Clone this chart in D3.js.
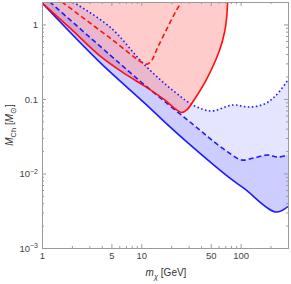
<!DOCTYPE html>
<html>
<head>
<meta charset="utf-8">
<script src="https://cdn.jsdelivr.net/npm/d3@7"></script>
<style>
  body { margin: 0; background: #fff; }
  svg { display: block; font-family: "Liberation Sans", Arial, sans-serif; }
</style>
</head>
<body>
<div id="chart"></div>
<script>
// curves as [m_chi (GeV), M_Ch (M_sun)] pairs
const blueSolid = [[1, 1.95], [3.83, 0.31], [10.8, 0.088], [16.4, 0.052], [28.7, 0.0265],
  [77.5, 0.0087], [110, 0.0062], [225, 0.00304], [300, 0.0036]];
const blueDashed = [[1.2, 2.0], [4.83, 0.39], [10.8, 0.154], [38.7, 0.0384], [51.1, 0.0282],
  [74, 0.0195], [102, 0.0152], [138, 0.0162], [187, 0.0177], [235, 0.0166], [300, 0.0177]];
const blueDotted = [[2.05, 2.0], [4.83, 0.925], [10.8, 0.286], [21.7, 0.124], [34.5, 0.0805],
  [51.1, 0.069], [83.2, 0.083], [123, 0.078], [174, 0.0857], [225, 0.11], [300, 0.18]];
const redSolid = [[1, 1.95], [1.91, 0.897], [3.83, 0.378], [6.83, 0.217], [10.8, 0.149],
  [17.2, 0.097], [22.7, 0.0712], [25.5, 0.0659], [28.7, 0.0712], [34.5, 0.1], [46.6, 0.197],
  [61.5, 0.455], [69, 0.792], [72.3, 1.22], [74, 2.0]];
const redDashed = [[1.59, 2.0], [4.83, 0.659], [10.4, 0.304], [11.6, 0.295], [12.8, 0.334],
  [14.7, 0.499], [18.5, 0.925], [22.7, 1.57], [25.5, 2.0]];

const xMajor = [1, 5, 10, 50, 100];
const xMinor = [2, 3, 4, 6, 7, 8, 9, 20, 30, 40, 60, 70, 80, 90, 200, 300];
const yMajor = [1e-3, 1e-2, 0.1, 1];
const yMinor = [2e-3, 3e-3, 4e-3, 5e-3, 6e-3, 7e-3, 8e-3, 9e-3, 0.02, 0.03, 0.04, 0.05, 0.06,
  0.07, 0.08, 0.09, 0.2, 0.3, 0.4, 0.5, 0.6, 0.7, 0.8, 0.9, 2];
const yLabels = { 1: ["1"], 0.1: ["0.1"], 0.01: ["10", "\u22122"], 0.001: ["10", "\u22123"] };

const W = 291, H = 284;
const margin = { top: 2, right: 3, bottom: 36, left: 42 };

const x = d3.scaleLog().domain([1, 300]).range([margin.left, W - margin.right]);
const y = d3.scaleLog().domain([1e-3, 2]).range([H - margin.bottom, margin.top]);

const svg = d3.select("#chart").append("svg").attr("width", W).attr("height", H);

svg.append("clipPath").attr("id", "plotclip")
  .append("rect")
  .attr("x", margin.left).attr("y", margin.top)
  .attr("width", W - margin.left - margin.right)
  .attr("height", H - margin.top - margin.bottom);

const plot = svg.append("g").attr("clip-path", "url(#plotclip)");

const line = d3.line().x(d => x(d[0])).y(d => y(d[1])).curve(d3.curveCatmullRom.alpha(0.5));
const topLeft = [1, 2.2];

// blue bands: solid..dotted and solid..dashed (overlap gives the darker band)
function band(lower, upper) {
  const pts = lower.concat(upper.slice().reverse()).concat([topLeft]);
  return line(lower) + "L" + line(upper.slice().reverse()).slice(1) + "L" + x(topLeft[0]) + "," + y(topLeft[1]) + "Z";
}
plot.append("path").attr("d", band(blueSolid, blueDotted)).attr("fill", "rgba(0,0,255,0.1)");
plot.append("path").attr("d", band(blueSolid, blueDashed)).attr("fill", "rgba(0,0,255,0.1)");

// red region: inside red solid curve up to the top
plot.append("path")
  .attr("d", line(redSolid) + "L" + x(74) + "," + y(2.2) + "L" + x(1) + "," + y(2.2) + "Z")
  .attr("fill", "rgba(255,0,0,0.2)");

const curves = [
  { data: blueSolid, color: "#1c1cff", dash: null },
  { data: blueDashed, color: "#1c1cff", dash: "5,3" },
  { data: blueDotted, color: "#1c1cff", dash: "1.6,2.4" },
  { data: redSolid, color: "#ff1010", dash: null },
  { data: redDashed, color: "#ff1010", dash: "5,3" }
];
curves.forEach(c => {
  plot.append("path")
    .attr("d", line(c.data))
    .attr("fill", "none")
    .attr("stroke", c.color)
    .attr("stroke-width", 1.6)
    .attr("stroke-dasharray", c.dash);
});

// frame + ticks
const frameColor = "#9a9a9a";
function drawAxis(axisFn, scale, vals, size, transform, labels) {
  const g = svg.append("g")
    .attr("transform", transform)
    .call(axisFn(scale).tickValues(vals).tickSize(size).tickPadding(4)
      .tickFormat(labels ? labels : () => ""));
  g.select(".domain").attr("stroke", frameColor).attr("stroke-width", 1);
  g.selectAll(".tick line").attr("stroke", frameColor);
  g.selectAll(".tick text").attr("fill", "#444").style("font-size", "9.5px");
  return g;
}
const bottomY = H - margin.bottom, rightX = W - margin.right;
drawAxis(d3.axisBottom, x, xMinor, -2, `translate(0,${bottomY})`);
drawAxis(d3.axisBottom, x, xMajor, -4, `translate(0,${bottomY})`, d => String(d));
drawAxis(d3.axisTop, x, xMinor, -2, `translate(0,${margin.top})`);
drawAxis(d3.axisTop, x, xMajor, -4, `translate(0,${margin.top})`);
drawAxis(d3.axisLeft, y, yMinor, -2, `translate(${margin.left},0)`);
const yAx = drawAxis(d3.axisLeft, y, yMajor, -4, `translate(${margin.left},0)`, d => "x");
drawAxis(d3.axisRight, y, yMinor, -2, `translate(${rightX},0)`);
drawAxis(d3.axisRight, y, yMajor, -4, `translate(${rightX},0)`);

yAx.selectAll(".tick text").each(function(d) {
  const t = d3.select(this).text("");
  const parts = yLabels[d];
  t.append("tspan").text(parts[0]);
  if (parts[1]) {
    t.append("tspan").attr("dy", "-0.45em").style("font-size", "7px").text(parts[1]);
  }
});

// axis titles
const xt = svg.append("text")
  .attr("x", (margin.left + rightX) / 2 + 1)
  .attr("y", 276)
  .attr("text-anchor", "middle")
  .attr("fill", "#333")
  .style("font-size", "10px");
xt.append("tspan").style("font-style", "italic").text("m");
xt.append("tspan").attr("dy", 2.5).style("font-size", "7.5px").style("font-style", "italic").text("\u03c7");
xt.append("tspan").attr("dy", -2.5).text(" [GeV]");

const yt = svg.append("text")
  .attr("transform", `translate(13,${(margin.top + bottomY) / 2}) rotate(-90)`)
  .attr("text-anchor", "middle")
  .attr("fill", "#333")
  .style("font-size", "10px");
yt.append("tspan").style("font-style", "italic").text("M");
yt.append("tspan").attr("dy", 2.5).style("font-size", "7.5px").text("Ch");
yt.append("tspan").attr("dy", -2.5).text(" [");
yt.append("tspan").style("font-style", "italic").text("M");
yt.append("tspan").attr("dy", 2.5).style("font-size", "7.5px").text("\u2299");
yt.append("tspan").attr("dy", -2.5).text("]");
</script>
</body>
</html>
